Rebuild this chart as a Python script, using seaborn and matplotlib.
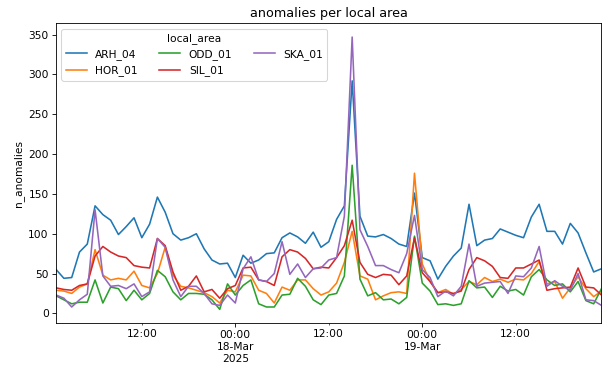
## Anomalias por area local ##

# Librerias
import numpy as np
import pandas as pd
import matplotlib
matplotlib.use("Agg")
import matplotlib.pyplot as plt
import matplotlib.dates as mdates
from matplotlib.ticker import FixedLocator, FixedFormatter
import seaborn as sns

# Datos (1 punto por hora)
horas = pd.date_range("2025-03-17 01:00", periods=71, freq="h")

areas = ["ARH_04", "HOR_01", "ODD_01", "SIL_01", "SKA_01"]

arh_04 = [55, 44, 45, 77, 87, 135, 124, 117, 99, 109, 120, 95,
          112, 146, 127, 100, 92, 95, 100, 81, 67, 62, 63, 45,
          73, 63, 67, 75, 76, 95, 101, 96, 88, 102, 83, 90,
          118, 135, 292, 122, 97, 96, 99, 94, 87, 84, 151, 70,
          66, 43, 59, 72, 82, 137, 85, 92, 94, 106, 102, 98,
          95, 121, 137, 103, 103, 87, 113, 101, 76, 52, 56]

hor_01 = [29, 28, 25, 33, 37, 80, 48, 42, 44, 42, 53, 35,
          32, 50, 83, 48, 34, 32, 29, 26, 21, 13, 29, 27,
          48, 47, 29, 25, 13, 33, 29, 42, 42, 31, 23, 27,
          38, 64, 103, 47, 43, 17, 22, 26, 27, 25, 176, 62,
          40, 26, 30, 24, 30, 40, 36, 45, 40, 43, 39, 43,
          42, 50, 65, 37, 40, 19, 32, 46, 31, 21, 28]

odd_01 = [22, 17, 12, 14, 14, 42, 13, 33, 31, 16, 29, 17,
          25, 54, 46, 27, 17, 25, 25, 24, 17, 5, 37, 23,
          35, 42, 12, 8, 8, 23, 24, 44, 34, 17, 11, 23,
          25, 47, 186, 43, 22, 26, 17, 18, 12, 20, 97, 38,
          28, 11, 12, 10, 12, 41, 32, 33, 20, 34, 28, 30,
          23, 46, 55, 42, 35, 37, 27, 40, 16, 12, 31]

sil_01 = [32, 30, 29, 35, 37, 72, 84, 77, 72, 70, 60, 58,
          57, 94, 85, 52, 29, 34, 47, 27, 30, 19, 31, 35,
          57, 58, 42, 40, 35, 71, 80, 77, 69, 56, 58, 57,
          70, 85, 117, 64, 49, 45, 49, 48, 36, 47, 95, 51,
          40, 26, 27, 25, 28, 55, 70, 66, 59, 45, 44, 57,
          57, 62, 67, 29, 31, 32, 33, 57, 33, 32, 23]

ska_01 = [23, 19, 8, 17, 24, 130, 47, 34, 35, 31, 37, 21,
          27, 94, 83, 42, 21, 34, 34, 25, 12, 10, 23, 13,
          56, 71, 42, 40, 50, 90, 49, 62, 45, 56, 57, 67,
          70, 122, 347, 105, 84, 60, 60, 55, 51, 75, 123, 55,
          45, 21, 28, 22, 34, 87, 34, 38, 39, 40, 25, 47,
          46, 57, 84, 34, 41, 34, 29, 50, 17, 16, 10]

# Etiquetas del eje x
ticks_mayores = pd.to_datetime(["2025-03-18 00:00", "2025-03-19 00:00"])
etiquetas_mayores = ["00:00\n18-Mar\n2025", "00:00\n19-Mar"]
ticks_menores = pd.to_datetime(["2025-03-17 12:00", "2025-03-18 12:00", "2025-03-19 12:00"])
etiquetas_menores = ["12:00", "12:00", "12:00"]

# DataFrame en formato largo
df = pd.DataFrame({"timestamp": horas,
                   "ARH_04": arh_04, "HOR_01": hor_01, "ODD_01": odd_01,
                   "SIL_01": sil_01, "SKA_01": ska_01})
df = df.melt(id_vars="timestamp", var_name="local_area", value_name="n_anomalies")

# Grafico
fig, ax = plt.subplots(figsize=(8, 4.8), dpi=76.25)
fig.subplots_adjust(left=0.092, right=0.986, top=0.936, bottom=0.1175)

sns.lineplot(data=df, x="timestamp", y="n_anomalies", hue="local_area",
             hue_order=areas, palette="tab10", linewidth=1.5, ax=ax)

ax.set_xlim(horas[0], horas[-1])
ax.xaxis.set_major_locator(FixedLocator(mdates.date2num(ticks_mayores)))
ax.xaxis.set_major_formatter(FixedFormatter(etiquetas_mayores))
ax.xaxis.set_minor_locator(FixedLocator(mdates.date2num(ticks_menores)))
ax.xaxis.set_minor_formatter(FixedFormatter(etiquetas_menores))
plt.setp(ax.get_xticklabels(), ha="center")

ax.set_xlabel("")
ax.set_ylabel("n_anomalies")
ax.set_title("anomalies per local area")
ax.legend(title="local_area", ncol=3, loc="upper left")

fig.savefig("out.png", dpi=76.25)
